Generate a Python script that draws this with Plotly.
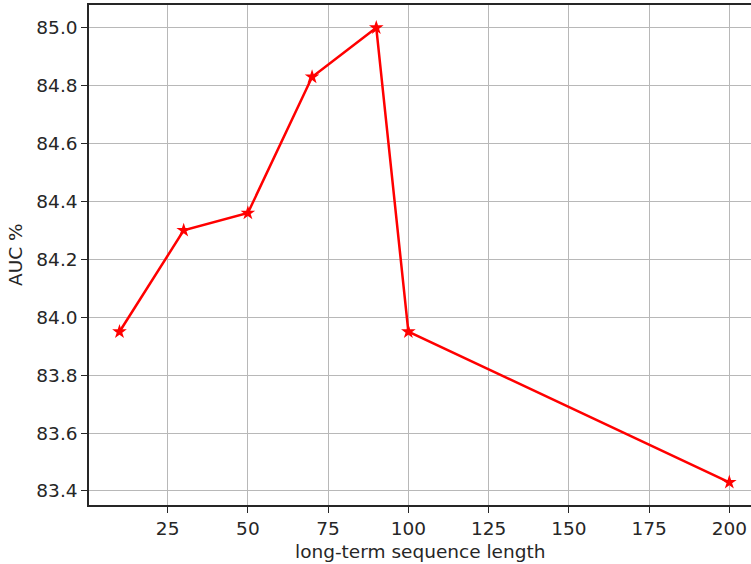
import plotly.graph_objects as go

seq_len = [10, 30, 50, 70, 90, 100, 200]
auc = [83.95, 84.30, 84.36, 84.83, 85.00, 83.95, 83.43]
x_ticks = [25, 50, 75, 100, 125, 150, 175, 200]
y_ticks = [83.4, 83.6, 83.8, 84.0, 84.2, 84.4, 84.6, 84.8, 85.0]

FONT = "DejaVu Sans"
FS = 18.5
fig = go.Figure()
fig.add_trace(go.Scatter(
    x=seq_len, y=auc, mode="lines+markers",
    line=dict(color="red", width=2.5),
    marker=dict(symbol="star", size=11, color="red"),
    showlegend=False,
))

fig.update_layout(
    width=751, height=564,
    margin=dict(l=89, r=0, t=5, b=59),
    paper_bgcolor="white", plot_bgcolor="white",
    font=dict(family=FONT, size=FS, color="#262626"),
    xaxis=dict(
        range=[0.5, 206.75], tickvals=x_ticks, ticktext=[str(v) for v in x_ticks],
        showgrid=True, gridcolor="#b8b8b8", gridwidth=1.4,
        showline=True, linecolor="#262626", linewidth=1.5, mirror=True,
        ticks="outside", ticklen=6, tickwidth=1.4, tickcolor="#262626",
        zeroline=False, tickfont=dict(size=FS),
    ),
    yaxis=dict(
        range=[83.3515, 85.0785], tickvals=y_ticks, ticktext=[f"{v:.1f}" for v in y_ticks],
        showgrid=True, gridcolor="#b8b8b8", gridwidth=1.4,
        showline=True, linecolor="#262626", linewidth=1.5,
        ticks="outside", ticklen=6, tickwidth=1.4, tickcolor="#262626",
        zeroline=False, tickfont=dict(size=FS),
    ),
    annotations=[
        dict(text="long-term sequence length", xref="paper", yref="paper",
             x=(420 - 89) / 662, y=-(551 - 505) / 500, xanchor="center", yanchor="middle",
             showarrow=False, font=dict(family=FONT, size=FS, color="#262626")),
        dict(text="AUC %", xref="paper", yref="paper",
             x=-(89 - 15) / 662, y=0.5, xanchor="center", yanchor="middle",
             textangle=-90, showarrow=False, font=dict(family=FONT, size=FS, color="#262626")),
    ],
)

fig.write_html("out.html", config={"displayModeBar": False},
               post_script="document.body.style.margin='0';document.body.style.overflow='hidden';")
